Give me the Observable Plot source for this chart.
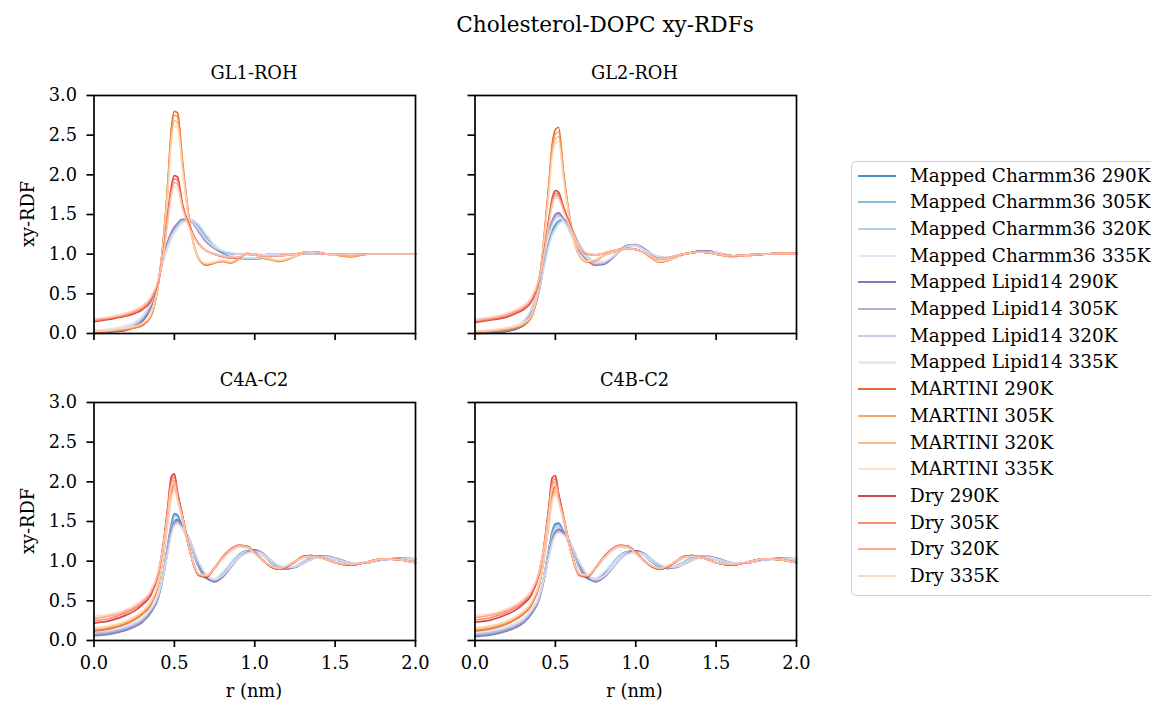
<!DOCTYPE html>
<html><head><meta charset="utf-8">
<script src="https://cdn.jsdelivr.net/npm/d3@7"></script>
<script src="https://cdn.jsdelivr.net/npm/@observablehq/plot@0.6"></script>
<style>
body{margin:0;background:#fff;}
#wrap{position:relative;width:1151px;height:704px;overflow:hidden;font-family:"DejaVu Serif",serif;color:#000;background:#fff;}
.abs{position:absolute;white-space:nowrap;line-height:1;}
</style></head><body><div id="wrap"></div>
<script>
// r grid (nm)
const R = [0,0.1,0.2,0.25,0.3,0.35,0.4,0.43,0.46,0.48,0.5,0.52,0.55,
  0.6,0.65,0.7,0.75,0.8,0.85,0.9,0.95,1.0,1.05,1.1,1.15,1.2,1.25,1.3,1.35,1.4,1.45,1.5,
  1.6,1.7,1.8,1.9,2.0];

const seriesNames = [
  "Mapped Charmm36 290K","Mapped Charmm36 305K","Mapped Charmm36 320K","Mapped Charmm36 335K",
  "Mapped Lipid14 290K","Mapped Lipid14 305K","Mapped Lipid14 320K","Mapped Lipid14 335K",
  "MARTINI 290K","MARTINI 305K","MARTINI 320K","MARTINI 335K",
  "Dry 290K","Dry 305K","Dry 320K","Dry 335K"];
const seriesColors = [
  "#2171b5","#6baed6","#9ecae1","#d4e5f4",
  "#6a51a3","#9e9ac8","#bcbddc","#e2e1ef",
  "#d94801","#fd8d3c","#fdae6b","#fedcbb",
  "#cb181d","#fb6a4a","#fc9272","#fdd0bd"];

const panelTitles = ["GL1-ROH","GL2-ROH","C4A-C2","C4B-C2"];
const figTitle = "Cholesterol-DOPC xy-RDFs";
const xLabel = "r (nm)";
const yLabel = "xy-RDF";
const xTicks = [0,0.5,1,1.5,2];
const xTickLabels = ["0.0","0.5","1.0","1.5","2.0"];
const yTicks = [0,0.5,1,1.5,2,2.5,3];
const yTickLabels = ["0.0","0.5","1.0","1.5","2.0","2.5","3.0"];

// GL1-ROH: rows in seriesNames order
const gl1 = [
[0.01,0.02,0.05,0.09,0.16,0.32,0.66,0.94,1.14,1.24,1.31,1.37,1.42,1.43,1.33,1.19,1.08,1.01,0.97,0.95,0.94,0.94,0.95,0.97,0.99,1.00,1.00,1.01,1.01,1.01,1.00,1.00,1.00,1.00,1.00,1.00,1.00],
[0.02,0.03,0.06,0.10,0.18,0.34,0.66,0.93,1.12,1.22,1.30,1.36,1.42,1.44,1.35,1.21,1.09,1.02,0.97,0.95,0.94,0.94,0.95,0.97,0.99,1.00,1.00,1.01,1.01,1.01,1.00,1.00,1.00,1.00,1.00,1.00,1.00],
[0.03,0.04,0.08,0.12,0.20,0.36,0.66,0.91,1.10,1.20,1.28,1.34,1.40,1.44,1.37,1.23,1.11,1.03,0.98,0.96,0.95,0.95,0.95,0.97,0.99,1.00,1.00,1.01,1.01,1.01,1.00,1.00,1.00,1.00,1.00,1.00,1.00],
[0.04,0.06,0.10,0.14,0.22,0.38,0.66,0.90,1.08,1.18,1.26,1.32,1.39,1.44,1.38,1.25,1.12,1.04,0.99,0.96,0.95,0.95,0.96,0.97,0.99,1.00,1.00,1.01,1.01,1.01,1.00,1.00,1.00,1.00,1.00,1.00,1.00],
[0.01,0.02,0.04,0.08,0.15,0.31,0.67,0.96,1.17,1.27,1.34,1.39,1.44,1.42,1.29,1.15,1.07,1.03,1.01,1.00,1.00,0.99,0.99,1.00,1.00,1.00,1.00,1.01,1.01,1.01,1.00,1.00,1.00,1.00,1.00,1.00,1.00],
[0.02,0.03,0.05,0.09,0.17,0.33,0.67,0.95,1.15,1.25,1.32,1.38,1.43,1.42,1.30,1.16,1.08,1.03,1.01,1.00,1.00,0.99,0.99,1.00,1.00,1.00,1.00,1.01,1.01,1.01,1.00,1.00,1.00,1.00,1.00,1.00,1.00],
[0.03,0.04,0.07,0.11,0.19,0.35,0.67,0.93,1.13,1.23,1.30,1.36,1.42,1.42,1.31,1.17,1.08,1.04,1.01,1.00,1.00,0.99,0.99,1.00,1.00,1.00,1.00,1.01,1.01,1.01,1.00,1.00,1.00,1.00,1.00,1.00,1.00],
[0.04,0.05,0.09,0.13,0.21,0.37,0.67,0.92,1.11,1.21,1.28,1.34,1.40,1.42,1.32,1.18,1.09,1.04,1.02,1.00,1.00,0.99,0.99,1.00,1.00,1.00,1.00,1.01,1.01,1.01,1.00,1.00,1.00,1.00,1.00,1.00,1.00],
[0.02,0.03,0.05,0.07,0.10,0.20,0.62,1.15,1.92,2.55,2.80,2.78,2.18,1.33,0.95,0.86,0.89,0.91,0.89,0.94,1.01,0.99,0.95,0.93,0.91,0.93,0.97,1.01,1.03,1.02,1.00,0.99,0.97,1.00,1.00,1.00,1.00],
[0.02,0.03,0.05,0.07,0.11,0.21,0.62,1.14,1.88,2.50,2.75,2.73,2.15,1.32,0.95,0.87,0.89,0.91,0.89,0.94,1.01,0.99,0.95,0.93,0.91,0.93,0.97,1.01,1.03,1.02,1.00,0.99,0.97,1.00,1.00,1.00,1.00],
[0.03,0.04,0.06,0.08,0.12,0.22,0.63,1.12,1.84,2.44,2.68,2.66,2.11,1.31,0.96,0.88,0.90,0.92,0.90,0.95,1.01,0.99,0.96,0.94,0.92,0.94,0.97,1.01,1.02,1.02,1.00,0.99,0.98,1.00,1.00,1.00,1.00],
[0.03,0.04,0.07,0.09,0.13,0.23,0.63,1.10,1.80,2.38,2.61,2.59,2.07,1.30,0.96,0.88,0.90,0.92,0.90,0.95,1.01,0.99,0.96,0.94,0.92,0.94,0.97,1.01,1.02,1.02,1.00,0.99,0.98,1.00,1.00,1.00,1.00],
[0.15,0.18,0.22,0.25,0.30,0.40,0.66,1.00,1.52,1.84,1.99,1.97,1.63,1.33,1.13,1.04,1.00,0.97,0.95,0.96,1.00,1.00,0.98,0.98,0.98,0.99,1.00,1.02,1.03,1.02,1.00,1.00,0.99,1.00,1.00,1.00,1.00],
[0.16,0.19,0.23,0.26,0.31,0.41,0.66,0.99,1.49,1.80,1.95,1.93,1.61,1.32,1.13,1.04,1.00,0.97,0.95,0.96,1.00,1.00,0.98,0.98,0.98,0.99,1.00,1.02,1.03,1.02,1.00,1.00,0.99,1.00,1.00,1.00,1.00],
[0.17,0.20,0.24,0.28,0.33,0.43,0.67,0.98,1.46,1.76,1.90,1.88,1.59,1.31,1.13,1.04,1.00,0.97,0.96,0.96,1.00,1.00,0.98,0.98,0.98,0.99,1.00,1.02,1.03,1.02,1.00,1.00,0.99,1.00,1.00,1.00,1.00],
[0.19,0.21,0.26,0.30,0.35,0.45,0.68,0.97,1.43,1.72,1.85,1.83,1.57,1.30,1.12,1.04,1.00,0.98,0.96,0.97,1.00,1.00,0.98,0.98,0.98,0.99,1.00,1.02,1.03,1.02,1.00,1.00,0.99,1.00,1.00,1.00,1.00]];

// GL2-ROH
const gl2 = [
[0.00,0.01,0.03,0.05,0.10,0.22,0.55,0.88,1.16,1.29,1.37,1.42,1.44,1.30,1.10,0.95,0.88,0.88,0.94,1.04,1.10,1.11,1.07,1.00,0.96,0.95,0.97,1.00,1.02,1.04,1.04,1.02,0.98,0.99,1.00,1.01,1.01],
[0.01,0.02,0.04,0.06,0.11,0.23,0.55,0.87,1.14,1.27,1.35,1.41,1.43,1.31,1.11,0.96,0.89,0.89,0.94,1.04,1.10,1.11,1.07,1.00,0.96,0.95,0.97,1.00,1.02,1.04,1.04,1.02,0.98,0.99,1.00,1.01,1.01],
[0.02,0.03,0.05,0.08,0.13,0.25,0.55,0.85,1.12,1.25,1.33,1.39,1.42,1.32,1.12,0.97,0.90,0.90,0.95,1.04,1.09,1.10,1.06,1.00,0.96,0.96,0.97,1.00,1.02,1.03,1.03,1.02,0.98,0.99,1.00,1.01,1.01],
[0.03,0.04,0.07,0.10,0.15,0.27,0.56,0.84,1.10,1.23,1.31,1.37,1.41,1.33,1.13,0.98,0.91,0.91,0.95,1.04,1.09,1.10,1.06,1.00,0.97,0.96,0.97,1.00,1.02,1.03,1.03,1.02,0.98,0.99,1.00,1.01,1.01],
[0.00,0.01,0.03,0.06,0.12,0.28,0.70,1.05,1.30,1.42,1.50,1.52,1.45,1.25,1.04,0.92,0.86,0.87,0.95,1.05,1.11,1.12,1.07,1.00,0.96,0.95,0.97,1.00,1.02,1.04,1.04,1.02,0.98,0.99,1.00,1.01,1.01],
[0.01,0.02,0.04,0.07,0.13,0.29,0.69,1.03,1.28,1.40,1.48,1.50,1.44,1.25,1.05,0.93,0.87,0.88,0.95,1.05,1.11,1.12,1.07,1.00,0.96,0.95,0.97,1.00,1.02,1.04,1.04,1.02,0.98,0.99,1.00,1.01,1.01],
[0.02,0.03,0.05,0.08,0.14,0.30,0.68,1.01,1.26,1.38,1.46,1.48,1.43,1.25,1.06,0.94,0.88,0.89,0.95,1.04,1.10,1.11,1.06,1.00,0.96,0.96,0.97,1.00,1.02,1.03,1.03,1.02,0.98,0.99,1.00,1.01,1.01],
[0.03,0.04,0.07,0.10,0.16,0.31,0.67,0.99,1.23,1.35,1.43,1.46,1.42,1.25,1.07,0.95,0.89,0.90,0.96,1.04,1.10,1.11,1.06,1.00,0.97,0.96,0.97,1.00,1.02,1.03,1.03,1.02,0.98,0.99,1.00,1.01,1.01],
[0.02,0.03,0.05,0.07,0.10,0.20,0.64,1.22,1.90,2.38,2.57,2.60,2.05,1.33,0.98,0.90,0.92,0.98,1.02,1.05,1.07,1.06,1.02,0.95,0.90,0.92,0.96,1.00,1.02,1.03,1.02,1.00,0.97,0.98,1.00,1.00,1.00],
[0.02,0.03,0.05,0.07,0.11,0.21,0.64,1.20,1.86,2.33,2.51,2.54,2.02,1.32,0.98,0.90,0.92,0.98,1.02,1.05,1.07,1.06,1.02,0.95,0.90,0.92,0.96,1.00,1.02,1.03,1.02,1.00,0.97,0.98,1.00,1.00,1.00],
[0.03,0.04,0.06,0.08,0.12,0.22,0.64,1.18,1.82,2.28,2.45,2.48,1.99,1.31,0.98,0.91,0.93,0.98,1.02,1.05,1.07,1.06,1.02,0.95,0.91,0.92,0.96,1.00,1.02,1.03,1.02,1.00,0.97,0.98,1.00,1.00,1.00],
[0.03,0.04,0.07,0.09,0.13,0.23,0.64,1.16,1.78,2.22,2.39,2.42,1.96,1.30,0.99,0.91,0.93,0.98,1.02,1.05,1.07,1.06,1.02,0.96,0.91,0.93,0.96,1.00,1.02,1.03,1.02,1.00,0.97,0.98,1.00,1.00,1.00],
[0.14,0.17,0.21,0.25,0.30,0.40,0.68,1.02,1.45,1.70,1.80,1.78,1.60,1.33,1.10,1.00,0.99,1.01,1.04,1.06,1.07,1.06,1.02,0.97,0.94,0.95,0.98,1.00,1.02,1.03,1.02,1.00,0.98,0.99,1.00,1.01,1.01],
[0.15,0.18,0.22,0.26,0.31,0.41,0.68,1.01,1.42,1.67,1.77,1.75,1.58,1.32,1.10,1.00,0.99,1.01,1.04,1.06,1.07,1.06,1.02,0.97,0.94,0.95,0.98,1.00,1.02,1.03,1.02,1.00,0.98,0.99,1.00,1.01,1.01],
[0.17,0.19,0.24,0.28,0.33,0.43,0.69,1.00,1.40,1.64,1.74,1.72,1.56,1.31,1.10,1.00,0.99,1.01,1.04,1.06,1.07,1.06,1.02,0.97,0.94,0.95,0.98,1.00,1.02,1.03,1.02,1.00,0.98,0.99,1.00,1.01,1.01],
[0.18,0.21,0.26,0.30,0.35,0.45,0.70,0.99,1.37,1.61,1.71,1.69,1.54,1.30,1.10,1.01,0.99,1.01,1.04,1.06,1.07,1.06,1.02,0.97,0.94,0.95,0.98,1.00,1.02,1.03,1.02,1.00,0.98,0.99,1.00,1.01,1.01]];

// C4A-C2
const c4a = [
[0.07,0.09,0.14,0.18,0.24,0.35,0.56,0.84,1.22,1.46,1.60,1.58,1.43,1.20,0.93,0.78,0.75,0.84,0.97,1.08,1.13,1.14,1.08,0.98,0.92,0.90,0.93,0.99,1.04,1.06,1.05,1.02,0.97,0.98,1.02,1.03,1.02],
[0.08,0.10,0.15,0.19,0.25,0.36,0.57,0.84,1.21,1.44,1.57,1.56,1.42,1.20,0.94,0.79,0.76,0.85,0.97,1.08,1.13,1.13,1.08,0.98,0.92,0.90,0.93,0.99,1.04,1.06,1.05,1.02,0.97,0.98,1.02,1.03,1.02],
[0.10,0.12,0.17,0.21,0.27,0.38,0.58,0.84,1.19,1.41,1.53,1.53,1.41,1.20,0.95,0.80,0.77,0.85,0.97,1.07,1.12,1.13,1.08,0.99,0.93,0.91,0.93,0.99,1.03,1.05,1.05,1.02,0.97,0.98,1.02,1.03,1.02],
[0.12,0.14,0.19,0.23,0.29,0.40,0.59,0.84,1.17,1.38,1.49,1.50,1.40,1.20,0.96,0.81,0.78,0.86,0.97,1.07,1.12,1.12,1.07,0.99,0.93,0.91,0.94,0.99,1.03,1.05,1.04,1.02,0.97,0.98,1.02,1.03,1.02],
[0.06,0.08,0.13,0.17,0.23,0.34,0.54,0.80,1.15,1.38,1.50,1.52,1.44,1.24,0.97,0.80,0.74,0.80,0.92,1.04,1.11,1.14,1.10,1.01,0.94,0.91,0.92,0.97,1.02,1.06,1.06,1.04,0.98,0.98,1.02,1.04,1.03],
[0.07,0.09,0.14,0.18,0.24,0.35,0.55,0.80,1.14,1.36,1.48,1.50,1.43,1.24,0.98,0.81,0.75,0.81,0.92,1.04,1.11,1.13,1.10,1.01,0.94,0.91,0.92,0.97,1.02,1.06,1.06,1.04,0.98,0.98,1.02,1.04,1.03],
[0.09,0.11,0.16,0.20,0.26,0.37,0.56,0.81,1.13,1.34,1.46,1.48,1.42,1.24,0.99,0.82,0.76,0.82,0.93,1.04,1.10,1.12,1.09,1.01,0.94,0.92,0.93,0.97,1.02,1.05,1.05,1.03,0.98,0.98,1.02,1.03,1.03],
[0.11,0.13,0.18,0.22,0.28,0.39,0.58,0.82,1.12,1.32,1.44,1.46,1.41,1.24,1.00,0.83,0.77,0.82,0.93,1.04,1.10,1.12,1.09,1.01,0.95,0.92,0.93,0.97,1.02,1.05,1.05,1.03,0.98,0.98,1.02,1.03,1.03],
[0.12,0.15,0.21,0.26,0.33,0.44,0.70,1.05,1.55,1.88,1.98,1.84,1.56,1.10,0.83,0.81,0.91,1.04,1.14,1.19,1.18,1.11,1.01,0.93,0.90,0.93,0.99,1.05,1.07,1.05,1.02,0.98,0.95,0.99,1.03,1.02,0.98],
[0.13,0.16,0.22,0.27,0.34,0.45,0.71,1.05,1.53,1.85,1.95,1.82,1.55,1.10,0.84,0.81,0.91,1.04,1.14,1.19,1.18,1.11,1.01,0.93,0.90,0.93,0.99,1.05,1.07,1.05,1.02,0.98,0.95,0.99,1.03,1.02,0.98],
[0.15,0.18,0.24,0.29,0.36,0.47,0.72,1.05,1.51,1.81,1.91,1.79,1.53,1.10,0.84,0.82,0.91,1.03,1.13,1.18,1.17,1.10,1.01,0.94,0.91,0.94,0.99,1.04,1.06,1.05,1.02,0.98,0.96,0.99,1.03,1.02,0.98],
[0.16,0.19,0.25,0.30,0.37,0.48,0.73,1.05,1.49,1.77,1.87,1.76,1.51,1.10,0.85,0.82,0.91,1.03,1.13,1.18,1.17,1.10,1.01,0.94,0.91,0.94,0.99,1.04,1.06,1.05,1.02,0.98,0.96,0.99,1.03,1.02,0.98],
[0.22,0.25,0.32,0.37,0.45,0.56,0.84,1.20,1.70,2.06,2.10,1.86,1.58,1.10,0.82,0.80,0.92,1.05,1.15,1.20,1.19,1.11,1.01,0.93,0.90,0.93,1.00,1.06,1.07,1.05,1.02,0.98,0.95,0.99,1.03,1.02,0.98],
[0.25,0.28,0.35,0.40,0.47,0.58,0.85,1.19,1.67,2.02,2.06,1.84,1.57,1.10,0.83,0.81,0.92,1.05,1.15,1.20,1.19,1.11,1.01,0.93,0.90,0.93,1.00,1.06,1.07,1.05,1.02,0.98,0.95,0.99,1.03,1.02,0.98],
[0.28,0.31,0.37,0.42,0.49,0.60,0.86,1.18,1.64,1.97,2.02,1.81,1.56,1.10,0.83,0.81,0.92,1.04,1.14,1.19,1.18,1.10,1.01,0.94,0.91,0.94,1.00,1.05,1.06,1.05,1.02,0.98,0.96,0.99,1.03,1.02,0.98],
[0.31,0.33,0.39,0.44,0.51,0.62,0.87,1.17,1.61,1.93,1.98,1.78,1.55,1.10,0.84,0.82,0.92,1.04,1.14,1.19,1.18,1.10,1.01,0.94,0.91,0.94,1.00,1.05,1.06,1.05,1.02,0.98,0.96,0.99,1.03,1.02,0.98]];

// C4B-C2
const c4b = [
[0.06,0.08,0.13,0.17,0.23,0.34,0.55,0.82,1.16,1.37,1.47,1.48,1.38,1.17,0.92,0.78,0.76,0.84,0.96,1.07,1.12,1.13,1.08,0.99,0.93,0.91,0.94,0.99,1.04,1.06,1.05,1.02,0.97,0.98,1.02,1.03,1.02],
[0.07,0.09,0.14,0.18,0.24,0.35,0.56,0.82,1.15,1.35,1.45,1.46,1.37,1.17,0.93,0.79,0.77,0.85,0.96,1.07,1.12,1.12,1.08,0.99,0.93,0.91,0.94,0.99,1.04,1.06,1.05,1.02,0.97,0.98,1.02,1.03,1.02],
[0.09,0.11,0.16,0.20,0.26,0.37,0.57,0.82,1.13,1.32,1.42,1.43,1.36,1.17,0.94,0.80,0.78,0.85,0.96,1.06,1.11,1.12,1.07,0.99,0.94,0.92,0.94,0.99,1.03,1.05,1.05,1.02,0.97,0.98,1.02,1.03,1.02],
[0.11,0.13,0.18,0.22,0.28,0.39,0.58,0.82,1.11,1.29,1.39,1.41,1.35,1.17,0.95,0.81,0.79,0.86,0.96,1.06,1.11,1.11,1.07,1.00,0.94,0.92,0.94,0.99,1.03,1.05,1.04,1.02,0.97,0.98,1.02,1.03,1.02],
[0.05,0.07,0.12,0.16,0.22,0.33,0.52,0.77,1.08,1.27,1.37,1.40,1.36,1.20,0.96,0.80,0.74,0.79,0.90,1.02,1.10,1.13,1.10,1.02,0.95,0.91,0.92,0.96,1.01,1.05,1.06,1.04,0.98,0.98,1.02,1.04,1.03],
[0.06,0.08,0.13,0.17,0.23,0.34,0.53,0.77,1.07,1.25,1.35,1.38,1.35,1.20,0.97,0.81,0.75,0.80,0.90,1.02,1.10,1.12,1.10,1.02,0.95,0.91,0.92,0.96,1.01,1.05,1.06,1.04,0.98,0.98,1.02,1.04,1.03],
[0.08,0.10,0.15,0.19,0.25,0.36,0.54,0.78,1.06,1.24,1.34,1.37,1.34,1.20,0.98,0.82,0.76,0.81,0.91,1.02,1.09,1.11,1.09,1.02,0.95,0.92,0.93,0.96,1.01,1.04,1.05,1.03,0.98,0.98,1.02,1.03,1.03],
[0.10,0.12,0.17,0.21,0.27,0.38,0.56,0.79,1.05,1.22,1.32,1.35,1.33,1.20,0.99,0.83,0.77,0.81,0.91,1.02,1.09,1.11,1.09,1.02,0.96,0.92,0.93,0.96,1.01,1.04,1.05,1.03,0.98,0.98,1.02,1.03,1.03],
[0.12,0.15,0.21,0.26,0.33,0.44,0.70,1.04,1.52,1.84,1.95,1.83,1.55,1.10,0.84,0.81,0.91,1.04,1.14,1.19,1.18,1.11,1.01,0.93,0.90,0.93,0.99,1.05,1.07,1.05,1.02,0.98,0.95,0.99,1.03,1.02,0.98],
[0.13,0.16,0.22,0.27,0.34,0.45,0.71,1.04,1.50,1.81,1.92,1.81,1.54,1.10,0.84,0.81,0.91,1.04,1.14,1.19,1.18,1.11,1.01,0.93,0.90,0.93,0.99,1.05,1.07,1.05,1.02,0.98,0.95,0.99,1.03,1.02,0.98],
[0.15,0.18,0.24,0.29,0.36,0.47,0.72,1.04,1.48,1.77,1.88,1.78,1.52,1.10,0.85,0.82,0.91,1.03,1.13,1.18,1.17,1.10,1.01,0.94,0.91,0.94,0.99,1.04,1.06,1.05,1.02,0.98,0.96,0.99,1.03,1.02,0.98],
[0.16,0.19,0.25,0.30,0.37,0.48,0.73,1.04,1.46,1.74,1.84,1.75,1.50,1.10,0.85,0.82,0.91,1.03,1.13,1.18,1.17,1.10,1.01,0.94,0.91,0.94,0.99,1.04,1.06,1.05,1.02,0.98,0.96,0.99,1.03,1.02,0.98],
[0.23,0.26,0.33,0.38,0.46,0.57,0.85,1.20,1.70,2.05,2.08,1.85,1.57,1.10,0.82,0.80,0.92,1.05,1.15,1.20,1.19,1.11,1.01,0.93,0.90,0.93,1.00,1.06,1.07,1.05,1.02,0.98,0.95,0.99,1.03,1.02,0.98],
[0.26,0.29,0.36,0.41,0.48,0.59,0.86,1.19,1.67,2.00,2.04,1.83,1.56,1.10,0.83,0.81,0.92,1.05,1.15,1.20,1.19,1.11,1.01,0.93,0.90,0.93,1.00,1.06,1.07,1.05,1.02,0.98,0.95,0.99,1.03,1.02,0.98],
[0.29,0.32,0.38,0.43,0.50,0.61,0.87,1.18,1.64,1.96,2.00,1.80,1.55,1.10,0.83,0.81,0.92,1.04,1.14,1.19,1.18,1.10,1.01,0.94,0.91,0.94,1.00,1.05,1.06,1.05,1.02,0.98,0.96,0.99,1.03,1.02,0.98],
[0.32,0.34,0.40,0.45,0.52,0.63,0.88,1.17,1.61,1.92,1.96,1.77,1.54,1.10,0.84,0.82,0.92,1.04,1.14,1.19,1.18,1.10,1.01,0.94,0.91,0.94,1.00,1.05,1.06,1.05,1.02,0.98,0.96,0.99,1.03,1.02,0.98]];

const panelData = [gl1, gl2, c4a, c4b];

const wrap = document.getElementById("wrap");
const FONT = '"DejaVu Serif", serif';

function addText(txt, x, y, size, opts = {}) {
  const d = document.createElement("div");
  d.className = "abs";
  d.textContent = txt;
  d.style.fontSize = size + "px";
  d.style.left = x + "px";
  d.style.top = y + "px";
  d.style.transform = (opts.rotate ? "translate(-50%,-50%) rotate(-90deg)" : "translate(-50%,-50%)");
  wrap.appendChild(d);
  return d;
}

function makePanel(rows, showX, showY) {
  const marks = [];
  rows.forEach((vals, i) => {
    const data = R.map((r, j) => ({r, g: vals[j]}));
    marks.push(Plot.line(data, {x: "r", y: "g", stroke: seriesColors[i], strokeWidth: 1.7, strokeOpacity: 0.8, curve: "monotone-x"}));
  });
  marks.push(Plot.frame({stroke: "black", strokeWidth: 1.7}));
  marks.push(Plot.axisX({ticks: xTicks, tickSize: 7, tickPadding: 9, strokeWidth: 1.7, label: null,
    tickFormat: showX ? (d => xTickLabels[xTicks.indexOf(d)]) : (() => "")}));
  marks.push(Plot.axisY({ticks: yTicks, tickSize: 7, tickPadding: 10, strokeWidth: 1.7, label: null,
    tickFormat: showY ? (d => yTickLabels[yTicks.indexOf(d)]) : (() => "")}));
  return Plot.plot({
    width: 430, height: 290,
    marginLeft: 93.5, marginRight: 15, marginTop: 10, marginBottom: 42,
    x: {domain: [0, 2]}, y: {domain: [0, 3]},
    style: {fontFamily: FONT, fontSize: "17.8px", color: "black", background: "transparent", overflow: "visible"},
    marks
  });
}

const pos = [[0, 85], [380.5, 85], [0, 392], [380.5, 392]];
panelData.forEach((rows, k) => {
  const svg = makePanel(rows, k >= 2, k % 2 === 0);
  svg.style.position = "absolute";
  svg.style.left = pos[k][0] + "px";
  svg.style.top = pos[k][1] + "px";
  wrap.appendChild(svg);
  addText(panelTitles[k], pos[k][0] + 254, pos[k][1] - 12, 17.8);
});

addText(figTitle, 605, 25, 21.6);
addText(yLabel, 28, 214, 17.8, {rotate: true});
addText(yLabel, 28, 521, 17.8, {rotate: true});
addText(xLabel, 254, 691, 17.8);
addText(xLabel, 634.5, 691, 17.8);

// legend
const lg = document.createElement("div");
lg.style.cssText = "position:absolute;left:851px;top:161px;width:310px;height:435px;border:1.4px solid #cfcfcf;border-radius:5px;background:#fff;box-sizing:border-box;";
wrap.appendChild(lg);
seriesNames.forEach((name, i) => {
  const cy = 175.5 + i * 26.7;
  const sw = document.createElement("div");
  sw.style.cssText = `position:absolute;left:858px;top:${cy - 1}px;width:38px;height:2.2px;background:${seriesColors[i]};opacity:0.8;`;
  wrap.appendChild(sw);
  const t = document.createElement("div");
  t.className = "abs";
  t.textContent = name;
  t.style.fontSize = "18.4px";
  t.style.left = "910px";
  t.style.top = cy + "px";
  t.style.transform = "translateY(-50%)";
  wrap.appendChild(t);
});
</script>
</body></html>
